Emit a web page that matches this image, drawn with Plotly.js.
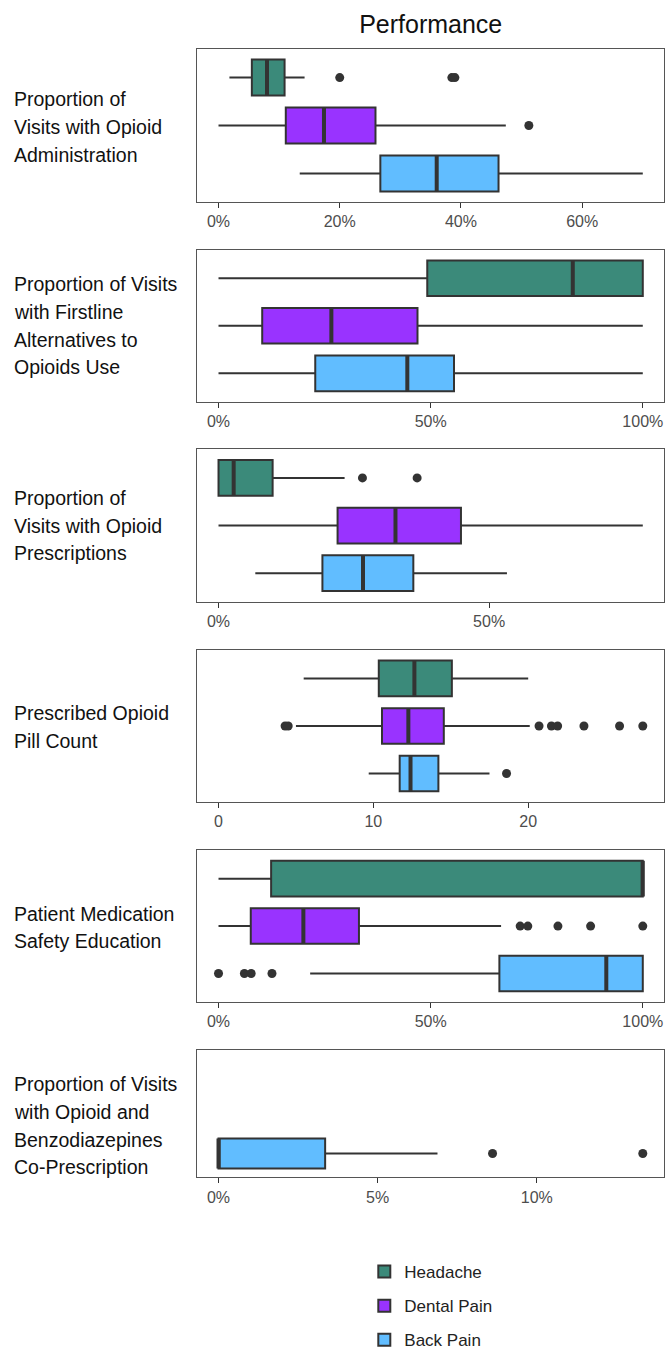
<!DOCTYPE html>
<html>
<head>
<meta charset="utf-8">
<script src="https://cdn.plot.ly/plotly-3.0.1.min.js"></script>
<style>html,body{margin:0;padding:0;background:#fff;}#chart{width:666px;height:1358px;}</style>
</head>
<body>
<div id="chart"></div>
<script>
// ---------- DATA ----------
const categories = ['Headache', 'Dental Pain', 'Back Pain'];
const panelLabels = [
  ['Proportion of', 'Visits with Opioid', 'Administration'],
  ['Proportion of Visits', 'with Firstline', 'Alternatives to', 'Opioids Use'],
  ['Proportion of', 'Visits with Opioid', 'Prescriptions'],
  ['Prescribed Opioid', 'Pill Count'],
  ['Patient Medication', 'Safety Education'],
  ['Proportion of Visits', 'with Opioid and', 'Benzodiazepines', 'Co-Prescription']
];
const chartTitle = 'Performance';

// Panel 1: opioid administration (%)
const adminLo  = [1.8, 0, 13.4];
const adminQ1  = [5.5, 11.1, 26.7];
const adminMed = [8.0, 17.4, 36.0];
const adminQ3  = [10.9, 25.9, 46.2];
const adminHi  = [14.2, 47.4, 70.0];
const adminOut = [[20.0, 38.5, 39.0], [51.2], []];

// Panel 2: firstline alternatives (%)
const firstLo  = [0, 0, 0];
const firstQ1  = [49.2, 10.3, 22.8];
const firstMed = [83.5, 26.6, 44.5];
const firstQ3  = [100, 46.9, 55.5];
const firstHi  = [100, 100, 100];
const firstOut = [[], [], []];

// Panel 3: opioid prescriptions (%)
const rxLo  = [0, 0, 6.8];
const rxQ1  = [0, 22.0, 19.2];
const rxMed = [2.8, 32.7, 26.7];
const rxQ3  = [10.0, 44.8, 36.0];
const rxHi  = [23.3, 78.4, 53.3];
const rxOut = [[26.6, 36.7], [], []];

// Panel 4: pill count
const pillLo  = [5.5, 5.0, 9.7];
const pillQ1  = [10.35, 10.56, 11.7];
const pillMed = [12.65, 12.26, 12.4];
const pillQ3  = [15.07, 14.55, 14.2];
const pillHi  = [20.0, 20.1, 17.5];
const pillOut = [[], [4.3, 4.5, 20.7, 21.5, 21.9, 23.6, 25.9, 27.4], [18.6]];

// Panel 5: medication safety education (%)
const eduLo  = [0, 0, 21.6];
const eduQ1  = [12.4, 7.6, 66.2];
const eduMed = [100, 20.0, 91.4];
const eduQ3  = [100, 33.1, 100];
const eduHi  = [100, 66.6, 100];
const eduOut = [[], [71.1, 72.9, 80.0, 87.7, 100], [0, 6.1, 7.7, 12.6]];

// Panel 6: opioid + benzodiazepine co-prescription (%) — Back Pain only
const benzoLo  = [null, null, 0];
const benzoQ1  = [null, null, 0];
const benzoMed = [null, null, 0];
const benzoQ3  = [null, null, 3.35];
const benzoHi  = [null, null, 6.88];
const benzoOut = [[], [], [8.61, 13.33]];

// Tick labels
const pctTicks1 = [0, 20, 40, 60];
const pctTicks2 = [0, 50, 100];
const pctTicks3 = [0, 50];
const pillTicks = [0, 10, 20];
const pctTicks5 = [0, 50, 100];
const pctTicks6 = [0, 5, 10];

// ---------- STYLE ----------
const fillColors = ['#3B8A7A', '#9933FF', '#61BDFF'];
const lineCol = '#333333';
const FONT = 'Liberation Sans, Arial, sans-serif';

const panels = [
  {lo: adminLo, q1: adminQ1, med: adminMed, q3: adminQ3, hi: adminHi, out: adminOut, ticks: pctTicks1, suffix: '%'},
  {lo: firstLo, q1: firstQ1, med: firstMed, q3: firstQ3, hi: firstHi, out: firstOut, ticks: pctTicks2, suffix: '%'},
  {lo: rxLo, q1: rxQ1, med: rxMed, q3: rxQ3, hi: rxHi, out: rxOut, ticks: pctTicks3, suffix: '%'},
  {lo: pillLo, q1: pillQ1, med: pillMed, q3: pillQ3, hi: pillHi, out: pillOut, ticks: pillTicks, suffix: ''},
  {lo: eduLo, q1: eduQ1, med: eduMed, q3: eduQ3, hi: eduHi, out: eduOut, ticks: pctTicks5, suffix: '%'},
  {lo: benzoLo, q1: benzoQ1, med: benzoMed, q3: benzoQ3, hi: benzoHi, out: benzoOut, ticks: pctTicks6, suffix: '%'}
];

// layout positions (pixels in a 1358px page)
const H = 1358, W = 666;
const panelPx = [[49, 203], [250.7, 403.3], [451, 604], [652.3, 805], [853.3, 1005.7], [1054, 1181.7]];
const labelCenterPx = [127.5, 327, 527.5, 730, 931, 1130];
const LINE_H = 27.8;
const xDom = [197.3 / W, 664 / W];
const BW = 0.75;

const traces = [];
const layout = {
  width: W, height: H,
  margin: {l: 0, r: 0, t: 0, b: 0},
  paper_bgcolor: '#ffffff', plot_bgcolor: '#ffffff',
  font: {family: FONT, color: '#333333'},
  showlegend: true,
  hovermode: false,
  title: {text: chartTitle, x: 430.7 / W, xanchor: 'center', xref: 'paper', y: 1 - 24 / H, yanchor: 'middle', yref: 'container', font: {size: 25, family: FONT, color: '#111111'}},
  legend: {x: 0.547, xanchor: 'left', y: 1 - 1259 / H, yanchor: 'top', orientation: 'v', font: {size: 17, family: FONT, color: '#222'}, tracegroupgap: 9, bgcolor: 'rgba(0,0,0,0)'},
  annotations: []
};

panels.forEach((p, k) => {
  const n = k + 1;
  const xa = 'x' + n, ya = 'y' + n;
  // range from data (always including 0), 5% expansion
  let vals = [0];
  [p.lo, p.q1, p.med, p.q3, p.hi].forEach(a => a.forEach(v => { if (v !== null) vals.push(v); }));
  p.out.forEach(a => a.forEach(v => vals.push(v)));
  const mn = Math.min(...vals), mx = Math.max(...vals);
  const pad = 0.05 * (mx - mn);

  const [top, bot] = panelPx[k];
  const yDom = [1 - bot / H, 1 - top / H];

  layout['xaxis' + n] = {
    domain: xDom, anchor: ya, range: [mn - pad, mx + pad],
    showgrid: false, zeroline: false,
    showline: true, mirror: true, linecolor: '#555555', linewidth: 1,
    ticks: 'outside', ticklen: 5, tickwidth: 1, tickcolor: '#333333',
    tickmode: 'array', tickvals: p.ticks, ticktext: p.ticks.map(t => t + p.suffix),
    tickfont: {size: 16, family: FONT, color: '#4D4D4D'}, fixedrange: true
  };
  layout['yaxis' + n] = {
    domain: yDom, anchor: xa, range: [2.6, -0.6],
    showgrid: false, zeroline: false, showticklabels: false, ticks: '',
    showline: true, mirror: true, linecolor: '#555555', linewidth: 1, fixedrange: true
  };

  const lines = panelLabels[k];
  lines.forEach((txt, j) => {
    const cy = labelCenterPx[k] + (j - (lines.length - 1) / 2) * LINE_H;
    layout.annotations.push({
      xref: 'paper', yref: 'paper', x: 13 / W, y: 1 - cy / H,
      xanchor: 'left', yanchor: 'middle', align: 'left', showarrow: false,
      borderpad: 0,
      text: txt, font: {size: 19.5, family: FONT, color: '#111111'}
    });
  });

  categories.forEach((cat, i) => {
    if (p.q1[i] === null) return;
    traces.push({
      type: 'box', orientation: 'h', name: cat, legendgroup: cat,
      showlegend: k === 0,
      xaxis: xa, yaxis: ya,
      y: [i], q1: [p.q1[i]], median: [p.med[i]], q3: [p.q3[i]],
      lowerfence: [p.lo[i]], upperfence: [p.hi[i]],
      width: BW, whiskerwidth: 0, boxpoints: false,
      fillcolor: fillColors[i], line: {color: lineCol, width: 2}
    });
    // thick median line
    traces.push({
      type: 'scatter', mode: 'lines', showlegend: false, hoverinfo: 'skip',
      xaxis: xa, yaxis: ya,
      x: [p.med[i], p.med[i]], y: [i - BW / 2, i + BW / 2],
      line: {color: lineCol, width: 4}
    });
    if (p.out[i].length) {
      traces.push({
        type: 'scatter', mode: 'markers', showlegend: false, hoverinfo: 'skip',
        xaxis: xa, yaxis: ya,
        x: p.out[i], y: p.out[i].map(() => i),
        marker: {color: lineCol, size: 9}
      });
    }
  });
});

Plotly.newPlot('chart', traces, layout, {staticPlot: true, displayModeBar: false});
</script>
</body>
</html>
